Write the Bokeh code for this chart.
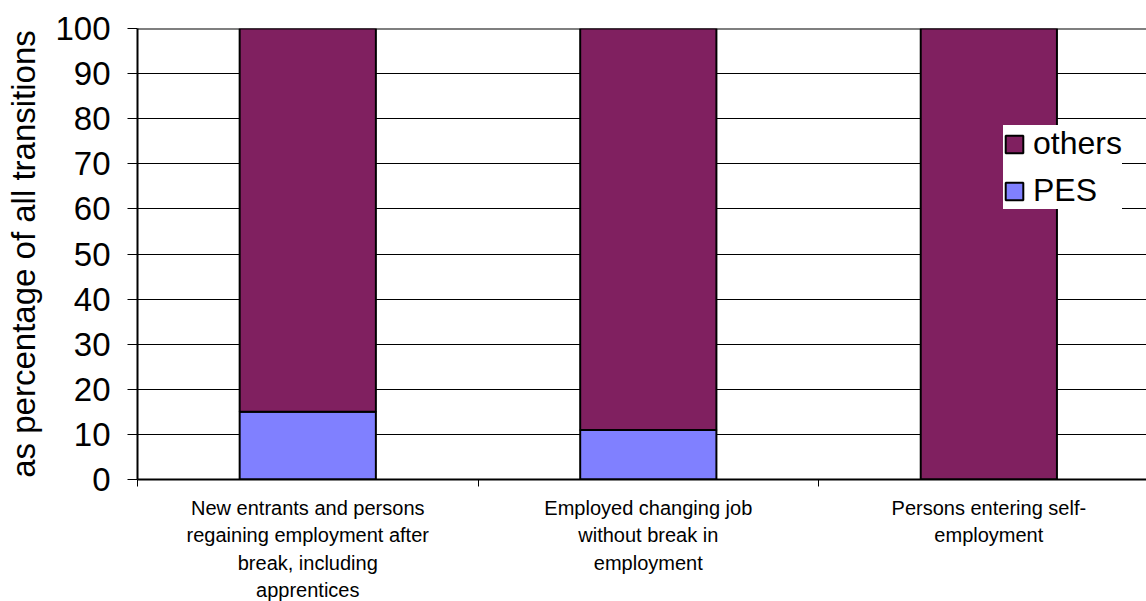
import numpy as np
from bokeh.plotting import figure
from bokeh.models import (Range1d, FixedTicker, Legend, LegendItem, Span,
                          ColumnDataSource)
from bokeh.embed import file_html
from bokeh.resources import INLINE

categories = [
    "New entrants and persons\nregaining employment after\nbreak, including\napprentices",
    "Employed changing job\nwithout break in\nemployment",
    "Persons entering self-\nemployment",
]
pes = [15, 11, 0]
others = [85, 89, 100]
y_ticks = [0, 10, 20, 30, 40, 50, 60, 70, 80, 90, 100]

FONT = "Liberation Sans"
x = np.arange(len(categories)) + 0.5
src = ColumnDataSource(dict(x=x, PES=pes, others=others))

p = figure(width=1146, height=601, output_backend="svg", toolbar_location=None,
           x_range=Range1d(0, 2.963), y_range=Range1d(0, 100),
           min_border_left=137, min_border_right=0, min_border_top=28,
           min_border_bottom=122)
p.frame_width = 1009
p.frame_height = 451
p.outline_line_color = None
p.background_fill_color = "white"

rs = p.vbar_stack(["PES", "others"], x="x", width=0.4, source=src,
                  color=["#8080FF", "#802060"], line_color="black", line_width=2)

# axes
p.yaxis.ticker = FixedTicker(ticks=y_ticks)
p.yaxis.axis_label = "as percentage of all transitions"
p.yaxis.axis_label_text_font = FONT
p.yaxis.axis_label_text_font_size = "33px"
p.yaxis.axis_label_text_font_style = "normal"
p.yaxis.axis_label_text_color = "black"
p.yaxis.axis_label_standoff = 10
p.yaxis.major_label_text_font = FONT
p.yaxis.major_label_text_font_size = "33px"
p.yaxis.major_label_text_color = "black"
p.yaxis.major_label_standoff = 17
p.yaxis.major_tick_in = 0
p.yaxis.major_tick_out = 10
p.yaxis.minor_tick_line_color = None
p.yaxis.axis_line_width = 2
p.yaxis.axis_line_color = "black"
p.yaxis.major_tick_line_color = "black"

p.xaxis.ticker = FixedTicker(ticks=list(x), minor_ticks=list(range(len(categories) + 1)))
p.xaxis.major_label_overrides = {float(v): c for v, c in zip(x, categories)}
p.xaxis.major_label_text_font = FONT
p.xaxis.major_label_text_font_size = "20px"
p.xaxis.major_label_text_color = "black"
p.xaxis.major_label_text_line_height = 1.25
p.xaxis.major_label_standoff = 10
p.xaxis.major_tick_in = 0
p.xaxis.major_tick_out = 0
p.xaxis.minor_tick_in = 0
p.xaxis.minor_tick_out = 7
p.xaxis.minor_tick_line_color = "black"
p.xaxis.axis_line_width = 2
p.xaxis.axis_line_color = "black"

p.xgrid.grid_line_color = None
p.ygrid.ticker = FixedTicker(ticks=y_ticks)
p.ygrid.grid_line_color = "black"
p.ygrid.grid_line_width = 1
p.ygrid.level = "underlay"
p.add_layout(Span(location=y_ticks[-1], dimension="width", line_color="black",
                  line_width=2, level="underlay"))

legend = Legend(items=[LegendItem(label="others", renderers=[rs[1]]),
                       LegendItem(label="PES", renderers=[rs[0]])],
                location=(866, 270))
legend.label_text_font = FONT
legend.label_text_font_size = "32px"
legend.label_text_color = "black"
legend.glyph_width = 22
legend.glyph_height = 22
legend.label_standoff = 8
legend.label_height = 25
legend.spacing = 10
legend.padding = 11
legend.margin = 10
legend.border_line_color = None
legend.background_fill_color = "white"
legend.background_fill_alpha = 1
p.add_layout(legend, "center")

open("out.html", "w").write(file_html(p, INLINE))
